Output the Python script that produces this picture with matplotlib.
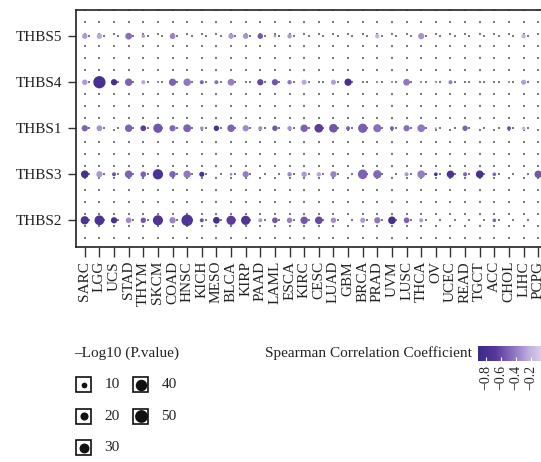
import matplotlib
matplotlib.use("Agg")
import matplotlib.pyplot as plt
import matplotlib.patches as patches
from matplotlib.colors import LinearSegmentedColormap, Normalize
from matplotlib.cm import ScalarMappable
import numpy as np

plt.rcParams['font.family'] = ['Liberation Serif', 'DejaVu Serif']

# —— 数据 —— #
genes = ['THBS5', 'THBS4', 'THBS1', 'THBS3', 'THBS2']
cancers = ['SARC', 'LGG', 'UCS', 'STAD', 'THYM', 'SKCM', 'COAD', 'HNSC',
           'KICH', 'MESO', 'BLCA', 'KIRP', 'PAAD', 'LAML', 'ESCA', 'KIRC',
           'CESC', 'LUAD', 'GBM', 'BRCA', 'PRAD', 'UVM', 'LUSC', 'THCA',
           'OV', 'UCEC', 'READ', 'TGCT', 'ACC', 'CHOL', 'LIHC', 'PCPG']

# -log10(P) per gene, same order as cancers (0 = not shown)
logp_thbs5 = [9, 9, 0, 14, 4, 0, 10, 0, 0, 0, 9, 9, 9, 2, 6, 0,
              0, 0, 0, 0, 6, 0, 0, 12, 0, 0, 0, 0, 0, 0, 6, 0]
logp_thbs4 = [9, 46, 12, 17, 5, 1, 16, 17, 5, 5, 14, 0, 12, 12, 6, 8,
              0, 8, 16, 0, 1, 1, 14, 1, 1, 5, 0, 0, 0, 1, 8, 0]
logp_thbs1 = [12, 10, 0, 17, 10, 26, 12, 19, 4, 9, 17, 12, 5, 9, 6, 17,
              23, 23, 5, 26, 20, 5, 12, 18, 1, 0, 9, 0, 0, 5, 4, 0]
logp_thbs3 = [18, 12, 5, 18, 10, 32, 13, 17, 8, 0, 2, 12, 0, 0, 6, 9,
              6, 12, 0, 28, 21, 0, 5, 18, 4, 17, 5, 18, 4, 0, 0, 17]
logp_thbs2 = [21, 29, 12, 10, 9, 31, 12, 40, 5, 14, 26, 26, 5, 10, 9, 17,
              18, 9, 0, 8, 12, 18, 10, 5, 0, 0, 0, 0, 4, 0, 0, 0]

# Spearman correlation per gene
rho_thbs5 = [-0.30, -0.25, 0, -0.45, -0.28, 0, -0.38, 0, 0, 0, -0.30, -0.32,
             -0.55, -0.30, -0.30, 0, 0, 0, 0, 0, -0.20, 0, 0, -0.32,
             0, 0, 0, 0, 0, 0, -0.20, 0]
rho_thbs4 = [-0.30, -0.78, -0.80, -0.50, -0.25, -0.3, -0.50, -0.42, -0.50,
             -0.45, -0.40, 0, -0.62, -0.55, -0.42, -0.25, 0, -0.28, -0.80,
             0, -0.3, -0.3, -0.42, -0.3, -0.3, -0.40, 0, 0, 0, -0.3, -0.28, 0]
rho_thbs1 = [-0.50, -0.32, 0, -0.50, -0.65, -0.55, -0.48, -0.50, -0.35,
             -0.78, -0.50, -0.35, -0.35, -0.55, -0.32, -0.50, -0.65, -0.55,
             -0.50, -0.52, -0.45, -0.50, -0.45, -0.42, -0.3, 0, -0.50, 0, 0,
             -0.55, -0.18, 0]
rho_thbs3 = [-0.78, -0.30, -0.55, -0.50, -0.50, -0.75, -0.50, -0.42, -0.75,
             0, -0.40, -0.40, 0, 0, -0.35, -0.30, -0.25, -0.38, 0, -0.50,
             -0.48, 0, -0.30, -0.40, -0.80, -0.75, -0.50, -0.78, -0.50, 0, 0,
             -0.55]
rho_thbs2 = [-0.75, -0.75, -0.80, -0.35, -0.55, -0.72, -0.38, -0.72, -0.55,
             -0.80, -0.65, -0.72, -0.30, -0.55, -0.40, -0.55, -0.60, -0.35,
             0, -0.30, -0.42, -0.80, -0.50, -0.30, 0, 0, 0, 0, -0.50, 0, 0, 0]

logp = [logp_thbs5, logp_thbs4, logp_thbs1, logp_thbs3, logp_thbs2]
rho = [rho_thbs5, rho_thbs4, rho_thbs1, rho_thbs3, rho_thbs2]

legend_values = [10, 20, 30, 40, 50]
cbar_ticks = [-0.8, -0.6, -0.4, -0.2]
rho_min, rho_max = -0.9, 0.0


def size_of(v):
    # 点面积与 -log10(P) 成正比
    return 1.7 * np.asarray(v, dtype=float)


cmap = LinearSegmentedColormap.from_list(
    'purples', ['#3a2a8a', '#55369a', '#8a6fbd', '#c0aedd', '#e4dcf1'])
norm = Normalize(rho_min, rho_max)

W, H = 541, 462
fig = plt.figure(figsize=(W / 100, H / 100), dpi=100)

# —— 主图 —— #
ax_l, ax_r, ax_t, ax_b = 76, 547, 9.5, 247
ax = fig.add_axes([ax_l / W, 1 - ax_b / H, (ax_r - ax_l) / W, (ax_b - ax_t) / H])
n_col = len(cancers)
ax.set_xlim(-0.6, n_col - 0.4)
ax.set_ylim(len(genes) - 1 + 0.58, -0.58)

# 背景灰点
grid_y = np.linspace(-0.565, 4.375, 20)
gx, gy = np.meshgrid(np.arange(n_col), grid_y)
ax.scatter(gx.ravel(), gy.ravel(), s=1.2, marker='s', color='#7a7a7a',
           linewidths=0, zorder=1)
fx, fy = np.meshgrid(np.arange(n_col) + 0.3, np.arange(len(genes)))
ax.scatter(fx.ravel(), fy.ravel(), s=1.2, marker='s', color='#7a7a7a',
           linewidths=0, zorder=1)

for gi in range(len(genes)):
    v = np.asarray(logp[gi], dtype=float)
    r = np.asarray(rho[gi], dtype=float)
    m = v > 0
    xs = np.arange(n_col)[m]
    ax.scatter(xs, np.full(xs.shape, gi), s=size_of(v[m]), c=r[m],
               cmap=cmap, norm=norm, linewidths=0, zorder=3)

ax.set_xticks(np.arange(n_col))
ax.set_xticklabels(cancers, rotation=90, fontsize=11, color='#222222',
                   va='top', ha='center')
ax.set_yticks(np.arange(len(genes)))
ax.set_yticklabels(genes, fontsize=11, color='#222222')
ax.tick_params(axis='x', length=7, width=1, color='#333333', pad=3)
ax.tick_params(axis='y', length=6, width=1, color='#333333', pad=4)
for sp in ax.spines.values():
    sp.set_color('#222222')
    sp.set_linewidth(1.2)

# —— 大小图例 —— #
lg = fig.add_axes([0, 0, 1, 1])
lg.set_xlim(0, W)
lg.set_ylim(H, 0)
lg.axis('off')
lg.patch.set_alpha(0)
lg.text(74, 353, '\u2013Log10 (P.value)', fontsize=11, color='#222222',
        ha='left', va='center')
box_pos = [(83.5, 384.5), (83.5, 416), (83.5, 447.5), (140.5, 384.5), (140.5, 416)]
for (bx, by), val in zip(box_pos, legend_values):
    lg.add_patch(patches.Rectangle((bx - 7.5, by - 7.5), 15, 15, fill=False,
                                   edgecolor='#111111', linewidth=1.2))
    lg.scatter([bx], [by], s=size_of(val), color='#111111', linewidths=0)
    lg.text(bx + 21, by, f'{val}', fontsize=11, color='#222222',
            ha='left', va='center')

# —— 颜色条 —— #
lg.text(472, 353, 'Spearman Correlation Coefficient', fontsize=11,
        color='#222222', ha='right', va='center')
cb_l, cb_r = 478, 478 + (rho_max - rho_min) * 76
cax = fig.add_axes([cb_l / W, 1 - 361 / H, (cb_r - cb_l) / W, 15 / H])
cb = fig.colorbar(ScalarMappable(norm=norm, cmap=cmap), cax=cax,
                  orientation='horizontal', ticks=cbar_ticks)
cb.outline.set_visible(False)
cax.set_xticklabels([f'\u2212{abs(t):.1f}' for t in cbar_ticks],
                    rotation=90, fontsize=10, color='#222222')
cax.tick_params(axis='x', length=3, width=0.8, color='white', direction='in', pad=3)

fig.savefig('out.png', dpi=100)
